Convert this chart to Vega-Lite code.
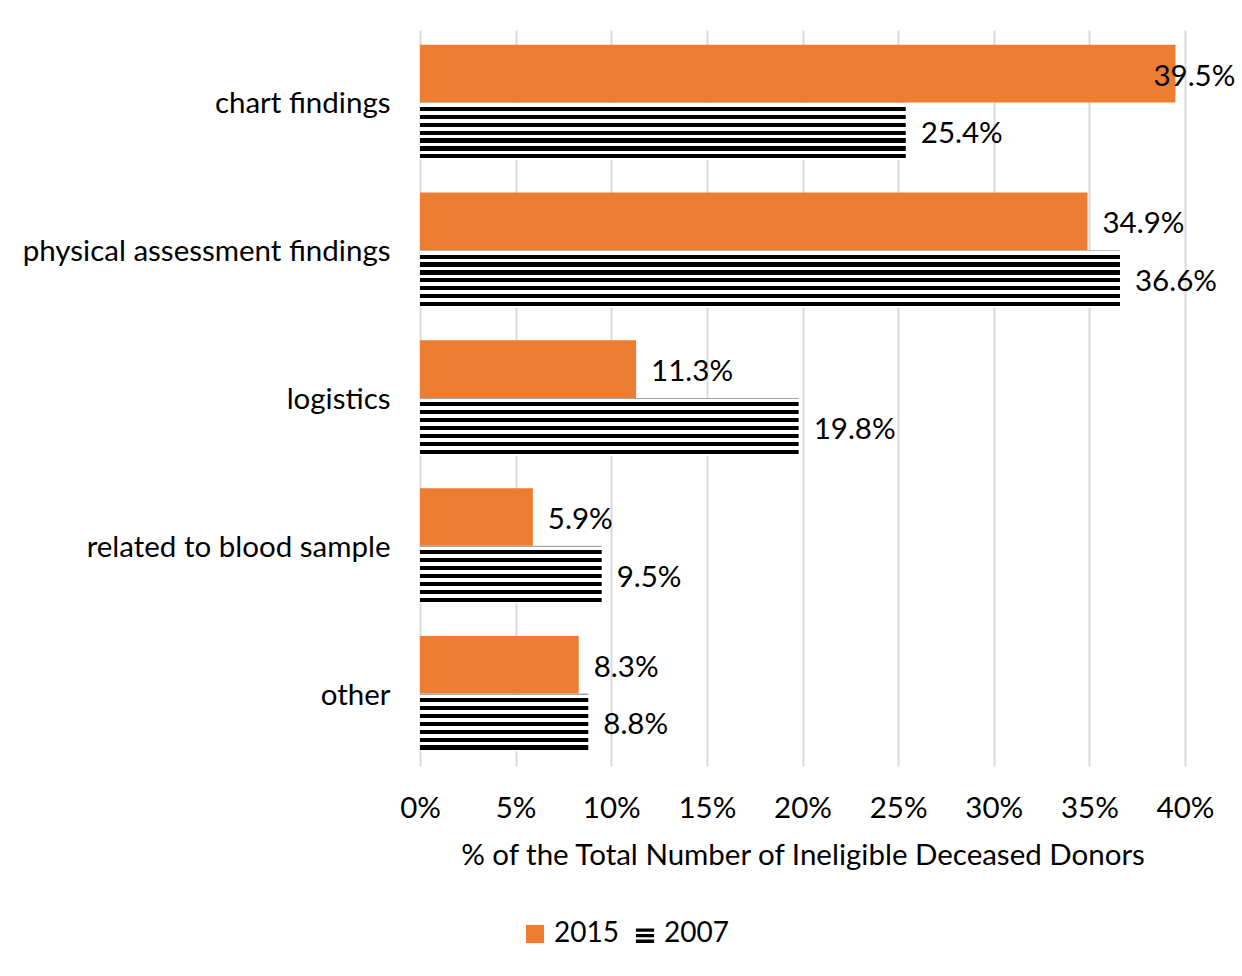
{
  "$schema": "https://vega.github.io/schema/vega-lite/v6.json",
  "width": 765,
  "height": 736,
  "autosize": {"type": "none"},
  "padding": {"left": 420, "top": 30, "right": 57, "bottom": 210},
  "background": "white",
  "config": {
    "font": "Lato",
    "view": {"stroke": null},
    "axis": {"labelFont": "Lato", "titleFont": "Lato", "labelColor": "#000000", "titleColor": "#000000"},
    "legend": {"labelFont": "Lato"}
  },
  "data": {
    "values": [
      {"category": "chart findings", "year": "2015", "value": 0.395, "label": "39.5%"},
      {"category": "chart findings", "year": "2007", "value": 0.254, "label": "25.4%"},
      {"category": "physical assessment findings", "year": "2015", "value": 0.349, "label": "34.9%"},
      {"category": "physical assessment findings", "year": "2007", "value": 0.366, "label": "36.6%"},
      {"category": "logistics", "year": "2015", "value": 0.113, "label": "11.3%"},
      {"category": "logistics", "year": "2007", "value": 0.198, "label": "19.8%"},
      {"category": "related to blood sample", "year": "2015", "value": 0.059, "label": "5.9%"},
      {"category": "related to blood sample", "year": "2007", "value": 0.095, "label": "9.5%"},
      {"category": "other", "year": "2015", "value": 0.083, "label": "8.3%"},
      {"category": "other", "year": "2007", "value": 0.088, "label": "8.8%"}
    ]
  },
  "encoding": {
    "y": {
      "field": "category",
      "type": "nominal",
      "sort": ["chart findings", "physical assessment findings", "logistics", "related to blood sample", "other"],
      "scale": {"paddingInner": 0.22, "paddingOuter": 0.1},
      "axis": {"title": null, "domain": false, "ticks": false, "labelFontSize": 29.5, "labelPadding": 30, "labelLimit": 500, "labelBaseline": "middle", "labelOffset": 2}
    },
    "yOffset": {
      "field": "year",
      "type": "nominal",
      "scale": {"domain": ["2015", "2007"], "paddingInner": 0, "paddingOuter": 0}
    },
    "x": {
      "field": "value",
      "type": "quantitative",
      "scale": {"domain": [0, 0.4], "nice": false},
      "axis": {
        "format": ".0%",
        "values": [0, 0.05, 0.1, 0.15, 0.2, 0.25, 0.3, 0.35, 0.4],
        "labelOverlap": false,
        "labelFlush": false,
        "domain": false,
        "ticks": false,
        "grid": true,
        "gridColor": "#d9d9d9",
        "gridWidth": 2,
        "labelFontSize": 29.5,
        "labelPadding": 28,
        "title": "% of the Total Number of Ineligible Deceased Donors",
        "titleFontSize": 29.5,
        "titleFontWeight": "normal",
        "titlePadding": 19
      }
    }
  },
  "layer": [
    {
      "mark": {"type": "point", "filled": true, "opacity": 0},
      "encoding": {
        "color": {
          "field": "year",
          "type": "nominal",
          "scale": {"domain": ["2015", "2007"], "range": ["#ED7D31", "#000000"]},
          "legend": {
            "title": null,
            "orient": "none",
            "direction": "horizontal",
            "legendX": 101,
            "legendY": 890,
            "padding": 0,
            "labelFontSize": 28,
            "labelColor": "#000000",
            "symbolSize": 330,
            "symbolOpacity": 1,
            "symbolStrokeWidth": 0,
            "labelOffset": 5,
            "columnPadding": 12,
            "encode": {"symbols": {"update": {"opacity": {"value": 1}}}}
          }
        },
        "shape": {
          "field": "year",
          "type": "nominal",
          "scale": {"domain": ["2015", "2007"], "range": ["square", "M-1,-0.6H1V-0.25H-1Z M-1,0H1V0.35H-1Z M-1,0.6H1V1H-1Z"]},
          "legend": {
            "title": null,
            "orient": "none",
            "direction": "horizontal",
            "legendX": 101,
            "legendY": 890,
            "padding": 0,
            "labelFontSize": 28,
            "labelColor": "#000000",
            "symbolSize": 330,
            "symbolOpacity": 1,
            "symbolStrokeWidth": 0,
            "labelOffset": 5,
            "columnPadding": 12,
            "encode": {"symbols": {"update": {"opacity": {"value": 1}}}}
          }
        }
      }
    },
    {
      "transform": [{"filter": "datum.year === '2015'"}],
      "mark": {"type": "bar", "fill": "#ED7D31"}
    },
    {
      "transform": [{"filter": "datum.year === '2007'"}],
      "mark": {
        "type": "bar",
        "fill": {
          "gradient": "linear", "x1": 0, "y1": 0, "x2": 0, "y2": 1,
          "stops": [
            {"offset": 0, "color": "#a6a6a6"}, {"offset": 0.018, "color": "#a6a6a6"},
            {"offset": 0.018, "color": "#ffffff"}, {"offset": 0.075, "color": "#ffffff"},
            {"offset": 0.075, "color": "#000000"}, {"offset": 0.147, "color": "#000000"},
            {"offset": 0.147, "color": "#ffffff"}, {"offset": 0.2125, "color": "#ffffff"},
            {"offset": 0.2125, "color": "#000000"}, {"offset": 0.2845, "color": "#000000"},
            {"offset": 0.2845, "color": "#ffffff"}, {"offset": 0.35, "color": "#ffffff"},
            {"offset": 0.35, "color": "#000000"}, {"offset": 0.422, "color": "#000000"},
            {"offset": 0.422, "color": "#ffffff"}, {"offset": 0.4875, "color": "#ffffff"},
            {"offset": 0.4875, "color": "#000000"}, {"offset": 0.5595, "color": "#000000"},
            {"offset": 0.5595, "color": "#ffffff"}, {"offset": 0.625, "color": "#ffffff"},
            {"offset": 0.625, "color": "#000000"}, {"offset": 0.697, "color": "#000000"},
            {"offset": 0.697, "color": "#ffffff"}, {"offset": 0.7625, "color": "#ffffff"},
            {"offset": 0.7625, "color": "#000000"}, {"offset": 0.8345, "color": "#000000"},
            {"offset": 0.8345, "color": "#ffffff"}, {"offset": 0.9, "color": "#ffffff"},
            {"offset": 0.9, "color": "#000000"}, {"offset": 0.972, "color": "#000000"},
            {"offset": 0.972, "color": "#ffffff"}, {"offset": 1, "color": "#ffffff"}
          ]
        }
      }
    },
    {
      "transform": [{"filter": "datum.value < 0.39"}],
      "mark": {"type": "text", "align": "left", "baseline": "middle", "dx": 15, "dy": 3, "fontSize": 29.5, "font": "Lato", "color": "#000000"},
      "encoding": {"text": {"field": "label"}}
    },
    {
      "transform": [{"filter": "datum.value >= 0.39"}],
      "mark": {"type": "text", "align": "left", "baseline": "middle", "dx": -22, "dy": 3, "fontSize": 29.5, "font": "Lato", "color": "#000000"},
      "encoding": {"text": {"field": "label"}}
    }
  ]
}
